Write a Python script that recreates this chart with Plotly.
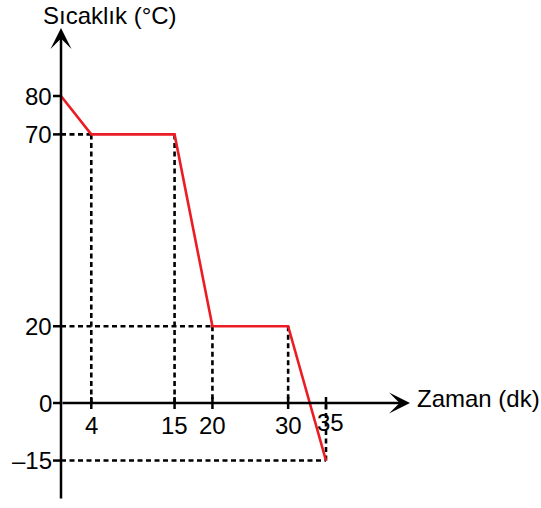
import plotly.graph_objects as go

# Heating/cooling curve: temperature (°C) against time (min)
time_min = [0, 4, 15, 20, 30, 35]
temp_c = [80, 70, 70, 20, 20, -15]

x_tick_vals = [4, 15, 20, 30, 35]
x_tick_text = ["4", "15", "20", "30", "35"]
y_tick_vals = [80, 70, 20, 0, -15]
y_tick_text = ["80", "70", "20", "0", "–15"]

x_title = "Zaman (dk)"
y_title = "Sıcaklık (°C)"

# Canvas and pixel scale of the data axes
W, H = 541, 508
ORIGIN_X, ORIGIN_Y = 61, 403
PX_PER_X = 265 / 35
PX_PER_Y = 307 / 80


def dx(px):
    return px / PX_PER_X


def dy(px):
    return px / PX_PER_Y


x_range = [-dx(ORIGIN_X), dx(W - ORIGIN_X)]
y_range = [-dy(H - ORIGIN_Y), dy(ORIGIN_Y)]

FONT = dict(family="Liberation Sans, Arial, sans-serif", size=24, color="black")
RED = "#ec1c24"
DASH = dict(color="black", width=2.6, dash="5px,3.5px")

fig = go.Figure()

# Dashed guide lines from each point to both axes
seen = set()
for t, v in zip(time_min[1:], temp_c[1:]):
    fig.add_trace(go.Scatter(
        x=[t, t], y=[v, 0], mode="lines", line=DASH,
        hoverinfo="skip", showlegend=False))
    if v not in seen and v != 0:
        seen.add(v)
        fig.add_trace(go.Scatter(
            x=[0, t], y=[v, v], mode="lines", line=DASH,
            hoverinfo="skip", showlegend=False))

# Temperature curve
fig.add_trace(go.Scatter(
    x=time_min, y=temp_c, mode="lines",
    line=dict(color=RED, width=2.6),
    hoverinfo="skip", showlegend=False))

annotations = []

# Axes drawn as arrows
annotations.append(dict(
    x=dx(410 - ORIGIN_X), y=0, ax=0, ay=0, xref="x", yref="y", axref="x", ayref="y",
    text="", showarrow=True, arrowhead=3, arrowsize=1.4, arrowwidth=2.5, arrowcolor="black"))
annotations.append(dict(
    x=0, y=dy(ORIGIN_Y - 28), ax=0, ay=-dy(500 - ORIGIN_Y), xref="x", yref="y", axref="x", ayref="y",
    text="", showarrow=True, arrowhead=3, arrowsize=1.4, arrowwidth=2.5, arrowcolor="black"))

# Axis titles
annotations.append(dict(
    x=dx(41 - ORIGIN_X), y=dy(ORIGIN_Y - 15), xref="x", yref="y",
    xanchor="left", yanchor="middle", text=y_title, showarrow=False, font=FONT))
annotations.append(dict(
    x=dx(415 - ORIGIN_X), y=dy(ORIGIN_Y - 398), xref="x", yref="y",
    xanchor="left", yanchor="middle", text=x_title, showarrow=False, font=FONT))

shapes = []

# Y ticks and labels
for v, s in zip(y_tick_vals, y_tick_text):
    shapes.append(dict(type="line", xref="x", yref="y", x0=-dx(8), x1=0, y0=v, y1=v,
                       line=dict(color="black", width=2.5), layer="above"))
    annotations.append(dict(
        x=-dx(7.5), y=v, xref="x", yref="y", xanchor="right", yanchor="middle",
        text=s, showarrow=False, font=FONT))

# X ticks and labels
for i, (v, s) in enumerate(zip(x_tick_vals, x_tick_text)):
    shapes.append(dict(type="line", xref="x", yref="y", x0=v, x1=v, y0=-dy(6), y1=dy(6),
                       line=dict(color="black", width=2.5), layer="above"))
    last = i == len(x_tick_vals) - 1
    annotations.append(dict(
        x=v, y=-dy(22), xref="x", yref="y", xanchor="center", yanchor="middle",
        xshift=4 if last else 0, yshift=3 if last else 0,
        text=s, showarrow=False, font=FONT))

fig.update_layout(
    width=W, height=H,
    margin=dict(l=0, r=0, t=0, b=0),
    paper_bgcolor="white", plot_bgcolor="white",
    xaxis=dict(range=x_range, visible=False, fixedrange=True),
    yaxis=dict(range=y_range, visible=False, fixedrange=True),
    shapes=shapes, annotations=annotations,
    font=FONT,
)

fig.write_html("out.html")
